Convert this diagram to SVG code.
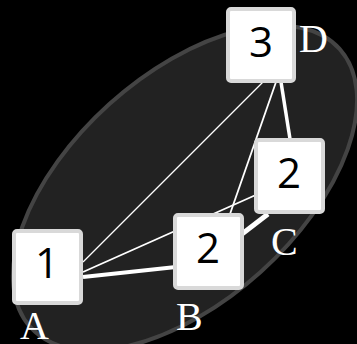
<svg xmlns="http://www.w3.org/2000/svg" width="357" height="344" viewBox="0 0 357 344">
<style>
.box{fill:#ffffff;stroke:#d9d9d9;stroke-width:4}
.num{font-family:"Open Sans","Liberation Sans",sans-serif;font-size:42px;fill:#000;text-anchor:middle}
.lbl{font-family:"Liberation Serif",serif;font-size:40px;fill:#ffffff}
.e{stroke:#ffffff;fill:none}
</style>
<rect x="0" y="0" width="357" height="344" fill="#000"/>
<ellipse cx="185" cy="188" rx="208" ry="113" transform="rotate(-42 185 188)" fill="#222222" stroke="#444444" stroke-width="4"/>
<g id="connectors">
<line class="e" x1="83" y1="262" x2="263" y2="82" stroke-width="1.2"/>
<line class="e" x1="83" y1="272" x2="258" y2="194" stroke-width="1.8"/>
<line class="e" x1="83" y1="277" x2="176" y2="267" stroke-width="4"/>
<line class="e" x1="276" y1="82" x2="230" y2="214" stroke-width="1.8"/>
<line class="e" x1="281" y1="82" x2="290" y2="139" stroke-width="3.5"/>
<line class="e" x1="242" y1="234" x2="268" y2="214" stroke-width="5"/>
</g>
<g id="nodeA"><rect class="box" x="14" y="231" width="67" height="72" rx="3"/><text class="num" x="47" y="278">1</text><text class="lbl" x="20" y="339">A</text></g>
<g id="nodeB"><rect class="box" x="175" y="215" width="67" height="73" rx="3"/><text class="num" x="208" y="263">2</text><text class="lbl" x="176" y="330">B</text></g>
<g id="nodeC"><rect class="box" x="256" y="140" width="67" height="72" rx="3"/><text class="num" x="289" y="188">2</text><text class="lbl" x="271" y="255">C</text></g>
<g id="nodeD"><rect class="box" x="228" y="9" width="66" height="72" rx="3"/><text class="num" x="261" y="57">3</text><text class="lbl" x="299" y="52">D</text></g>
</svg>
